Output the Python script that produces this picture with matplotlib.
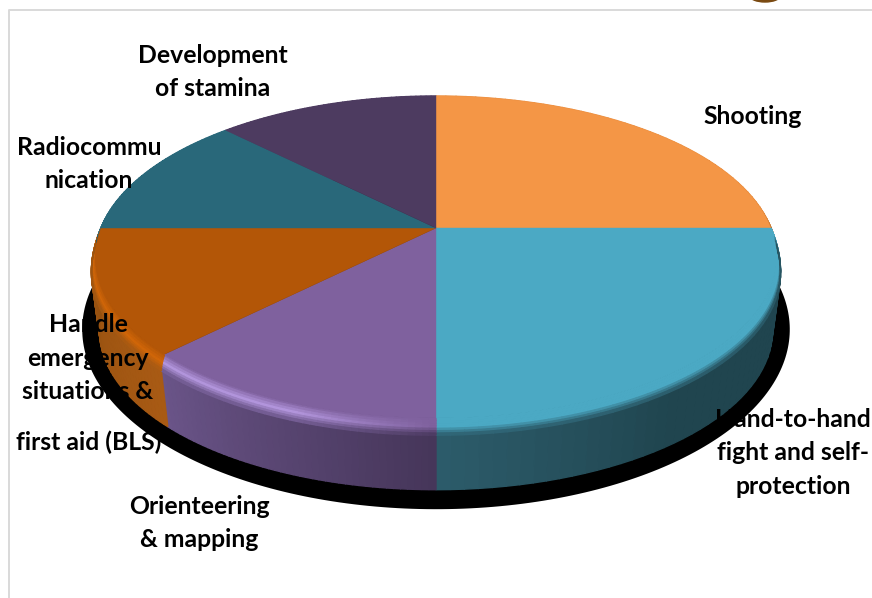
import numpy as np
import matplotlib
matplotlib.use("Agg")
import matplotlib.pyplot as plt
from matplotlib.patches import Ellipse

# shares of each training topic, clockwise from 12 o'clock
topics = ["Shooting", "Hand-to-hand fight and self-protection", "Orienteering & mapping",
          "Handle emergency situations & first aid (BLS)", "Radiocommunication",
          "Development of stamina"]
shares = [25, 25, 12.5, 12.5, 12.5, 12.5]

face_colors = ["#F49646", "#4BA9C4", "#7F619E", "#B35607", "#29687A", "#4D3B60"]
rim_colors = ["#A8662A", "#4BA9C4", "#B295DC", "#D06608", "#2F7488", "#5A4671"]
wall_start = ["#7A4A1C", "#20454F", "#46365A", "#A85A14", "#1F4F5C", "#3A2C4A"]
wall_end = ["#7A4A1C", "#2C5B6A", "#6A5488", "#94500F", "#1F4F5C", "#3A2C4A"]

# geometry of the tilted disc, in image pixels
CX, CY = 436, 228
RADIUS = 335
TILT = 0.465     # height/width of the disc
PERSP = 0.18     # front looks bigger than the back
DEPTH = 74


def project(theta, radius=RADIUS, drop=0, cy=CY, tilt=TILT):
    w = 1 + PERSP * np.sin(theta)
    return CX + radius * np.cos(theta) / w, cy - radius * tilt * np.sin(theta) / w + drop


def rgb(c):
    return np.array(matplotlib.colors.to_rgb(c))


def ring(ax, a, b, r0, d0, r1, d1, c0, c1, z, lo=0.0, hi=1.0):
    """strip between two rims of the disc, colour goes c0 -> c1 along the slice"""
    th = np.linspace(a, b, 46)
    for i in range(len(th) - 1):
        t = np.clip((i / (len(th) - 2) - lo) / (hi - lo), 0, 1)
        col = np.clip((1 - t) * c0 + t * c1, 0, 1)
        x0, y0 = project(th[i:i + 2], r0, d0)
        x1, y1 = project(th[i:i + 2], r1, d1)
        ax.fill(np.r_[x0, x1[::-1]], np.r_[y0, y1[::-1]], color=col, lw=1.0, zorder=z)


fig = plt.figure(figsize=(8.72, 5.98), dpi=100)
ax = fig.add_axes([0, 0, 1, 1])
ax.set_xlim(0, 872)
ax.set_ylim(598, 0)
ax.axis("off")

# chart frame and the bit of picture cut off at the top
ax.plot([9, 9, 872], [598, 10, 10], color="#D9D9D9", lw=1.4, zorder=1)
ax.add_patch(Ellipse((765, -4), 30, 12, color="#7A4A12", zorder=1))

# labels are black on top of everything, so they vanish on the shadow
font = dict(family=["Lato", "DejaVu Sans"], fontweight="bold", fontsize=17.8, color="black",
            ha="center", va="center", linespacing=1.56, zorder=8)
ax.text(213, 72, "Development\nof stamina", **font)
ax.text(753, 117, "Shooting", **font)
ax.text(89, 164, "Radiocommu\nnication", **font)
ax.text(88, 358, "Handle\nemergency\nsituations &", **font)
ax.text(89, 442, "first aid (BLS)", **font)
ax.text(199, 523, "Orienteering\n& mapping", **font)
ax.text(793, 453, "Hand-to-hand\nfight and self-\nprotection", **font)

# black shadow under the disc
th = np.linspace(0, 2 * np.pi, 360)
sx, sy = project(th, 348, 0, cy=297, tilt=0.5)
ax.fill(sx, sy, color="black", lw=0, zorder=3)

edges = np.radians(90 - 3.6 * np.cumsum([0] + shares))

for i in range(len(shares)):
    a, b = edges[i], edges[i + 1]
    face = rgb(face_colors[i])
    rim = rgb(rim_colors[i])
    w0, w1 = rgb(wall_start[i]), rgb(wall_end[i])

    # wall, the cyan one stays dark for most of its way round
    lo = 0.6 if i == 1 else 0.0
    ring(ax, a, b, 339, 15, 331, DEPTH, w0, w1, 4, lo=lo)

    # bevel: face -> light rim -> wall
    rim0 = face if i == 2 else rim   # purple highlight fades out toward the bottom of the disc
    hi = 0.45 if i == 2 else 1.0
    levels = np.linspace(0, 1, 8)
    for t0, t1 in zip(levels[:-1], levels[1:]):
        r0, r1 = 335 + 4 * np.sin(t0 * np.pi / 2), 335 + 4 * np.sin(t1 * np.pi / 2)
        mid = (t0 + t1) / 2
        if mid < 0.5:
            c0 = face + (rim0 - face) * mid * 2
            c1 = face + (rim - face) * mid * 2
        else:
            c0 = rim0 + (w0 - rim0) * (mid - 0.5) * 2
            c1 = rim + (w1 - rim) * (mid - 0.5) * 2
        ring(ax, a, b, r0, 15 * t0, r1, 15 * t1, c0, c1, 5, hi=hi)

for i in range(len(shares)):
    th = np.linspace(edges[i], edges[i + 1], 80)
    x, y = project(th)
    ax.fill(np.r_[CX, x], np.r_[CY, y], color=face_colors[i], lw=0.3, zorder=6)

fig.savefig("out.png", dpi=100)
